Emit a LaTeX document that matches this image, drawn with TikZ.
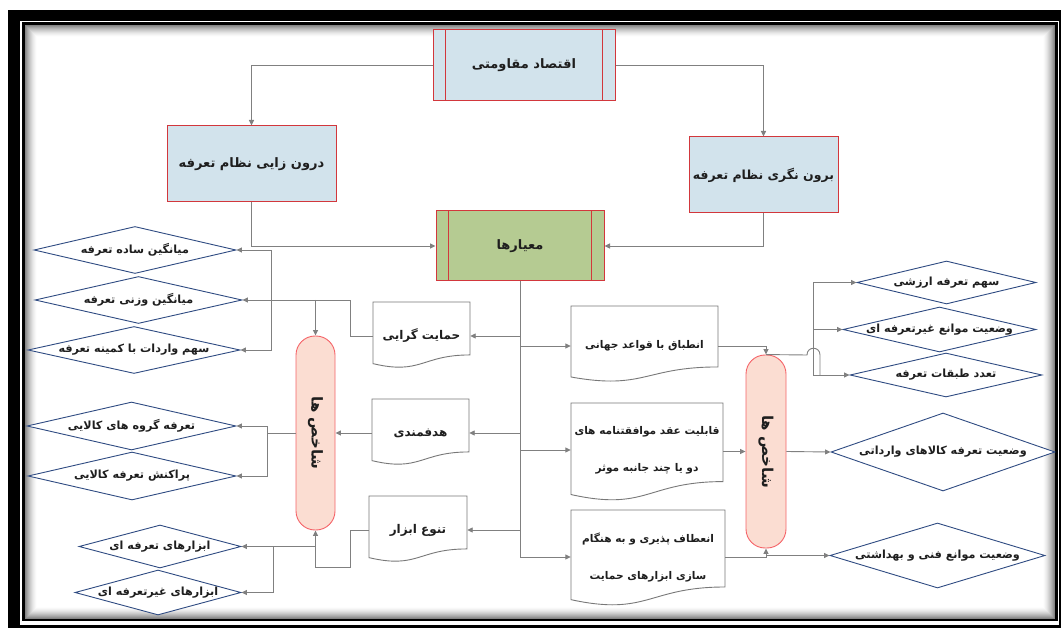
\documentclass[tikz,border=0pt]{standalone}
\usepackage{fontspec}
\newfontfamily\fa[Script=Arabic]{DejaVu Sans}
\TeXXeTstate=1
\usetikzlibrary{shapes.geometric,arrows.meta,calc}
\newcommand\fat[1]{\beginR #1\endR}
\newcommand\ttlfont{\fa\bfseries\fontsize{13}{16}\selectfont}
\newcommand\capfont{\fa\bfseries\fontsize{15}{18}\selectfont}
\newcommand\docfont{\fa\bfseries\fontsize{10.6}{37}\selectfont}
\newcommand\bigdoc{\fontsize{12}{16}\selectfont}
\newcommand\dmdfont{\fa\bfseries\fontsize{11.2}{13}\selectfont}
\definecolor{boxblue}{RGB}{210,227,236}
\definecolor{boxred}{RGB}{210,55,60}
\definecolor{boxgreen}{RGB}{181,203,146}
\definecolor{cappink}{RGB}{251,221,210}
\definecolor{capred}{RGB}{245,100,105}
\definecolor{dmdblue}{RGB}{47,75,130}
\definecolor{linegray}{RGB}{128,128,128}
\definecolor{docgray}{RGB}{120,120,120}
\definecolor{txt}{RGB}{30,30,30}
\tikzset{
  conn/.style={draw=linegray, line width=0.9pt},
  arr/.style={conn, -{Triangle[length=5.5pt,width=5pt]}},
  titlebox/.style={rectangle, draw=boxred, line width=1pt, fill=boxblue, inner sep=0pt, text=txt, font=\ttlfont},
  dmd/.style={diamond, draw=dmdblue, line width=0.9pt, fill=white, inner sep=0pt},
  dtext/.style={inner sep=0pt, font=\dmdfont, text=txt},
  capsule/.style={rectangle, rounded corners=19pt, draw=capred, fill=cappink, line width=0.9pt, inner sep=0pt},
  captext/.style={inner sep=0pt, font=\capfont, text=txt, rotate=-90},
  docline/.style={draw=docgray, fill=white, line width=0.9pt},
  docbox/.style={rectangle, inner sep=0pt, align=center, font=\docfont, text=txt},
}
% name, left, top, right, doc height, connection y, text
\newcommand\mydoc[7]{%
  \draw[docline] (#2,#3) -- (#4,#3) -- (#4,{#3+0.802*#5})
    .. controls ({(#2+#4)/2},{#3+0.802*#5}) and ({(#2+#4)/2},{#3+1.108*#5}) .. (#2,{#3+0.934*#5}) -- cycle;
  \node[docbox, minimum width={#4-#2}, minimum height={2*(#6-#3)}] (#1) at ({(#2+#4)/2},#6) {#7};
}
\begin{document}
\begin{tikzpicture}[x=1pt,y=-1pt]
\useasboundingbox (0,0) rectangle (1061,628);
\clip (0,0) rectangle (1061,628);
\fill[white] (0,0) rectangle (1061,628);
% frame
\draw[black, line width=11.5pt] (13.75,15.75) rectangle (1065,631);
\foreach \i in {1,...,12}{
  \pgfmathsetmacro\g{55*(1-\i/13)^1.6}
  \draw[black!\g, line width=1pt] ({24.75+\i-0.5},{24.75+\i-0.5}) rectangle ({1055.25-\i+0.5},{618.75-\i+0.5});
}
\draw[black, line width=2.5pt] (23.5,23.5) rectangle (1056.5,620);

% title boxes
\node[titlebox, minimum width=182, minimum height=71] (A) at (524,65.5) {\fat{اقتصاد مقاومتی}};
\draw[boxred, line width=1pt] ($(A.north west)+(13,0)$) -- ($(A.south west)+(13,0)$)
  ($(A.north east)+(-13,0)$) -- ($(A.south east)+(-13,0)$);
\node[titlebox, minimum width=169, minimum height=76] (B) at (251.5,164) {\fat{درون زایی نظام تعرفه}};
\node[titlebox, minimum width=149, minimum height=76, font=\fa\bfseries\fontsize{12.5}{16}\selectfont] (C) at (763.5,175) {\fat{برون نگری نظام تعرفه}};
\node[titlebox, fill=boxgreen, minimum width=168, minimum height=70] (D) at (520,246) {\fat{معیارها}};
\draw[boxred, line width=1pt] ($(D.north west)+(13,0)$) -- ($(D.south west)+(13,0)$)
  ($(D.north east)+(-13,0)$) -- ($(D.south east)+(-13,0)$);

% documents
\mydoc{H1}{373}{302}{470}{66}{336}{\bigdoc\fat{حمایت گرایی}}
\mydoc{H2}{372}{399}{469}{66}{433}{\bigdoc\fat{هدفمندی}}
\mydoc{H3}{369}{496}{467}{66}{530}{\bigdoc\fat{تنوع ابزار}}
\mydoc{E1}{571}{306}{718}{76}{346}{\fat{انطباق با قواعد جهانی}}
\mydoc{E2}{571}{403}{723}{98}{450}{\fat{قابلیت عقد موافقتنامه های}\\\fat{دو یا چند جانبه موثر}}
\mydoc{E3}{571}{510}{725}{96}{557}{\fat{انعطاف پذیری و به هنگام}\\\fat{سازی ابزارهای حمایت}}

% capsules
\node[capsule, minimum width=39, minimum height=194] (CL) at (315.5,433) {};
\node[captext] (CLt) at (CL) {\fat{شاخص ها}};
\node[capsule, minimum width=40, minimum height=193] (CR) at (766,451.5) {};
\node[captext] (CRt) at (CR) {\fat{شاخص ها}};

% diamonds left
\node[dmd, minimum width=202, minimum height=47] (L1) at (135,250) {};
\node[dtext] (L1t) at (L1) {\fat{میانگین ساده تعرفه}};
\node[dmd, minimum width=207, minimum height=47] (L2) at (138.5,300) {};
\node[dtext] (L2t) at (L2) {\fat{میانگین وزنی تعرفه}};
\node[dmd, minimum width=212, minimum height=47] (L3) at (134,350) {};
\node[dtext] (L3t) at (L3) {\fat{سهم واردات با کمینه تعرفه}};
\node[dmd, minimum width=209, minimum height=48] (L4) at (131.5,426) {};
\node[dtext] (L4t) at (L4) {\fat{تعرفه گروه های کالایی}};
\node[dmd, minimum width=208, minimum height=48] (L5) at (132,476) {};
\node[dtext] (L5t) at (L5) {\fat{پراکنش تعرفه کالایی}};
\node[dmd, minimum width=162, minimum height=43] (L6) at (160,546.5) {};
\node[dtext] (L6t) at (L6) {\fat{ابزارهای تعرفه ای}};
\node[dmd, minimum width=166, minimum height=45] (L7) at (158,592.5) {};
\node[dtext] (L7t) at (L7) {\fat{ابزارهای غیرتعرفه ای}};
% diamonds right
\node[dmd, minimum width=179, minimum height=43] (R1) at (946.5,282.5) {};
\node[dtext] (R1t) at (R1) {\fat{سهم تعرفه ارزشی}};
\node[dmd, minimum width=193, minimum height=45] (R2) at (939.5,329.5) {};
\node[dtext] (R2t) at (R2) {\fat{وضعیت موانع غیرتعرفه ای}};
\node[dmd, minimum width=192, minimum height=44] (R3) at (946,375) {};
\node[dtext] (R3t) at (R3) {\fat{تعدد طبقات تعرفه}};
\node[dmd, minimum width=224, minimum height=78] (R4) at (943,452) {};
\node[dtext] (R4t) at (R4) {\fat{وضعیت تعرفه کالاهای وارداتی}};
\node[dmd, minimum width=215, minimum height=65] (R5) at (937.5,555.5) {};
\node[dtext] (R5t) at (R5) {\fat{وضعیت موانع فنی و بهداشتی}};

% connectors top
\draw[arr] (A.west) -| (B.north);
\draw[arr] (A.east) -| (C.north);
\draw[arr] (B.south) |- (D.west);
\draw[arr] (C.south) |- (D.east);
% trunk
\coordinate (tend) at (D.south |- E3.west);
\draw[conn] (D.south) -- (tend);
\draw[arr] (D.south |- H1.east) -- (H1.east);
\draw[arr] (D.south |- H2.east) -- (H2.east);
\draw[arr] (D.south |- H3.east) -- (H3.east);
\draw[arr] (D.south |- E1.west) -- (E1.west);
\draw[arr] (D.south |- E2.west) -- (E2.west);
\draw[arr] (tend) -- (E3.west);
% left side
\coordinate (j1) at (350,300);
\coordinate (j2) at (271,300);
\draw[conn] (H1.west) -| (j1);
\draw[arr] (j1) -- (L2.east);
\draw[arr] (j2) |- (L1.east);
\draw[arr] (j2) |- (L3.east);
\draw[arr] (CL.north |- j1) -- (CL.north);
\draw[arr] (H2.west) -- (CL.east);
\coordinate (j3) at (267,433);
\draw[conn] (CL.west) -- (j3);
\draw[arr] (j3) |- (L4.east);
\draw[arr] (j3) |- (L5.east);
\coordinate (j4) at (350,567);
\draw[arr] (H3.west) -| (j4) -| (CL.south);
\draw[arr] (CL.south |- L6.east) -- (L6.east);
\coordinate (j5) at (273,546.5);
\draw[arr] (j5) |- (L7.east);
% right side
\draw[arr] (E1.east) -| (CR.north);
\coordinate (hopa) at (807,355);
\coordinate (hopb) at (820,355);
\coordinate (j6) at (813,375);
\draw[conn] (CR.north) -- (hopa) .. controls (807,346) and (820,346) .. (hopb) -- (hopb |- j6);
\draw[arr] (j6) |- (R1.west);
\draw[arr] (j6 |- R2.west) -- (R2.west);
\draw[arr] (j6) -- (R3.west);
\draw[arr] (E2.east |- CR.west) -- (CR.west);
\draw[arr] (CR.east) -- (R4.west);
\draw[arr] (E3.east) -| (CR.south);
\draw[arr] (CR.south |- R5.west) -- (R5.west);
\end{tikzpicture}
\end{document}
